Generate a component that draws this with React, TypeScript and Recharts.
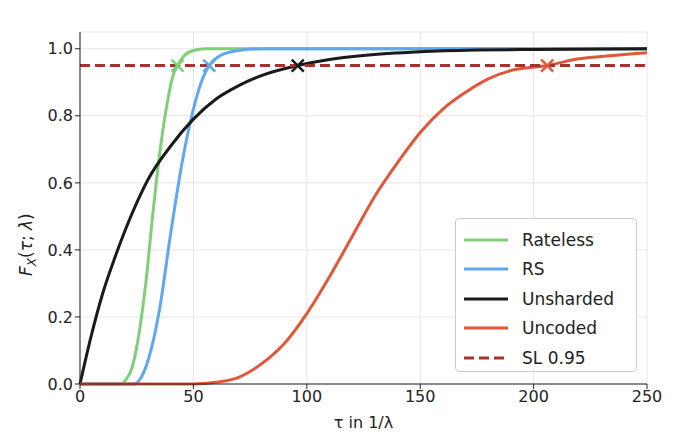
import { ComposedChart, Line, Scatter, XAxis, YAxis, CartesianGrid, ReferenceLine } from 'recharts';

const rateless = [
  { t: 0, y: 0 }, { t: 18, y: 0 }, { t: 20, y: 0.01 }, { t: 23, y: 0.05 }, { t: 26, y: 0.15 }, { t: 29, y: 0.3 },
  { t: 32, y: 0.5 }, { t: 35, y: 0.68 }, { t: 38, y: 0.82 }, { t: 41, y: 0.92 }, { t: 43, y: 0.95 },
  { t: 46, y: 0.98 }, { t: 50, y: 0.995 }, { t: 55, y: 1 }, { t: 250, y: 1 },
];
const rs = [
  { t: 0, y: 0 }, { t: 24, y: 0 }, { t: 27, y: 0.02 }, { t: 30, y: 0.07 }, { t: 35, y: 0.22 }, { t: 40, y: 0.45 },
  { t: 45, y: 0.66 }, { t: 50, y: 0.82 }, { t: 54, y: 0.91 }, { t: 57, y: 0.95 }, { t: 62, y: 0.98 },
  { t: 70, y: 0.995 }, { t: 80, y: 1 }, { t: 250, y: 1 },
];
const unsharded = [
  { t: 0, y: 0 }, { t: 5, y: 0.145 }, { t: 10, y: 0.27 }, { t: 15, y: 0.37 }, { t: 20, y: 0.46 }, { t: 25, y: 0.54 },
  { t: 30, y: 0.61 }, { t: 40, y: 0.71 }, { t: 50, y: 0.79 }, { t: 60, y: 0.85 }, { t: 70, y: 0.89 },
  { t: 80, y: 0.92 }, { t: 96, y: 0.95 }, { t: 110, y: 0.968 }, { t: 125, y: 0.98 }, { t: 150, y: 0.991 },
  { t: 175, y: 0.996 }, { t: 200, y: 0.998 }, { t: 250, y: 1 },
];
const uncoded = [
  { t: 0, y: 0 }, { t: 50, y: 0 }, { t: 60, y: 0.005 }, { t: 70, y: 0.02 }, { t: 80, y: 0.06 }, { t: 90, y: 0.12 },
  { t: 100, y: 0.21 }, { t: 110, y: 0.32 }, { t: 120, y: 0.44 }, { t: 130, y: 0.56 }, { t: 140, y: 0.66 },
  { t: 150, y: 0.75 }, { t: 160, y: 0.82 }, { t: 170, y: 0.87 }, { t: 180, y: 0.91 }, { t: 190, y: 0.935 },
  { t: 206, y: 0.95 }, { t: 220, y: 0.97 }, { t: 235, y: 0.98 }, { t: 250, y: 0.988 },
];
const marks = [
  { t: 43, y: 0.95, c: '#7fcf76' },
  { t: 57, y: 0.95, c: '#5fa8f0' },
  { t: 96, y: 0.95, c: '#1a1a1a' },
  { t: 206, y: 0.95, c: '#e0573a' },
];
const xTicks = [0, 50, 100, 150, 200, 250];
const yTicks = [0, 0.2, 0.4, 0.6, 0.8, 1.0];
const legendItems = [
  { name: 'Rateless', c: '#7fcf76', dash: false },
  { name: 'RS', c: '#5fa8f0', dash: false },
  { name: 'Unsharded', c: '#1a1a1a', dash: false },
  { name: 'Uncoded', c: '#e0573a', dash: false },
  { name: 'SL 0.95', c: '#a3332c', dash: true },
];

const font = 'DejaVu Sans';
const tick = { fill: '#222', fontSize: 16, fontFamily: font };

const Cross = (p: any) => {
  const s = 6;
  return (
    <g stroke={p.payload.c} strokeWidth={2.5}>
      <line x1={p.cx - s} y1={p.cy - s} x2={p.cx + s} y2={p.cy + s} />
      <line x1={p.cx - s} y1={p.cy + s} x2={p.cx + s} y2={p.cy - s} />
    </g>
  );
};

export default function App() {
  return (
    <div style={{ position: 'relative', margin: -8, width: 678, height: 444, background: '#fff', fontFamily: font }}>
      <ComposedChart width={678} height={444} margin={{ top: 32, right: 31, bottom: 30, left: 0 }}>
        <CartesianGrid stroke="#e6e6e6" />
        <XAxis type="number" dataKey="t" domain={[0, 250]} ticks={xTicks} tick={tick} stroke="#222" tickSize={5} height={30}
          label={{ value: 'τ in 1/λ', position: 'insideBottom', offset: -14, style: { ...tick, fill: '#222' } }} />
        <YAxis type="number" dataKey="y" domain={[0, 1.05]} ticks={yTicks} tick={tick} stroke="#222" tickSize={5}
          tickFormatter={(v: number) => v.toFixed(1)} width={80} />
        <Line type="monotone" data={rateless} dataKey="y" stroke="#7fcf76" strokeWidth={3} dot={false} isAnimationActive={false} />
        <Line type="monotone" data={rs} dataKey="y" stroke="#5fa8f0" strokeWidth={3} dot={false} isAnimationActive={false} />
        <Line type="monotone" data={unsharded} dataKey="y" stroke="#1a1a1a" strokeWidth={3} dot={false} isAnimationActive={false} />
        <Line type="monotone" data={uncoded} dataKey="y" stroke="#e0573a" strokeWidth={3} dot={false} isAnimationActive={false} />
        <ReferenceLine y={0.95} stroke="#a3332c" strokeWidth={3} strokeDasharray="10 5" />
        <Scatter data={marks} dataKey="y" shape={Cross} isAnimationActive={false} />
      </ComposedChart>
      <div style={{ position: 'absolute', left: 16, top: 276, transform: 'rotate(-90deg)', transformOrigin: 'left top', fontSize: 17, color: '#222', whiteSpace: 'nowrap' }}>
        <i>F</i><sub style={{ fontSize: 12 }}><i>X</i></sub>(<i>τ</i>; <i>λ</i>)
      </div>
      <div style={{ position: 'absolute', left: 455, top: 218, width: 182, height: 154, border: '1px solid #ccc', borderRadius: 4, background: 'rgba(255,255,255,0.85)', padding: '6px 0 0 8px', boxSizing: 'border-box' }}>
        {legendItems.map((l) => (
          <div key={l.name} style={{ display: 'flex', alignItems: 'center', height: 29.5, fontSize: 17, color: '#222' }}>
            <svg width={44} height={10} style={{ marginRight: 14 }}>
              <line x1={0} y1={5} x2={44} y2={5} stroke={l.c} strokeWidth={3} strokeDasharray={l.dash ? '10 5' : undefined} />
            </svg>
            {l.name}
          </div>
        ))}
      </div>
    </div>
  );
}
